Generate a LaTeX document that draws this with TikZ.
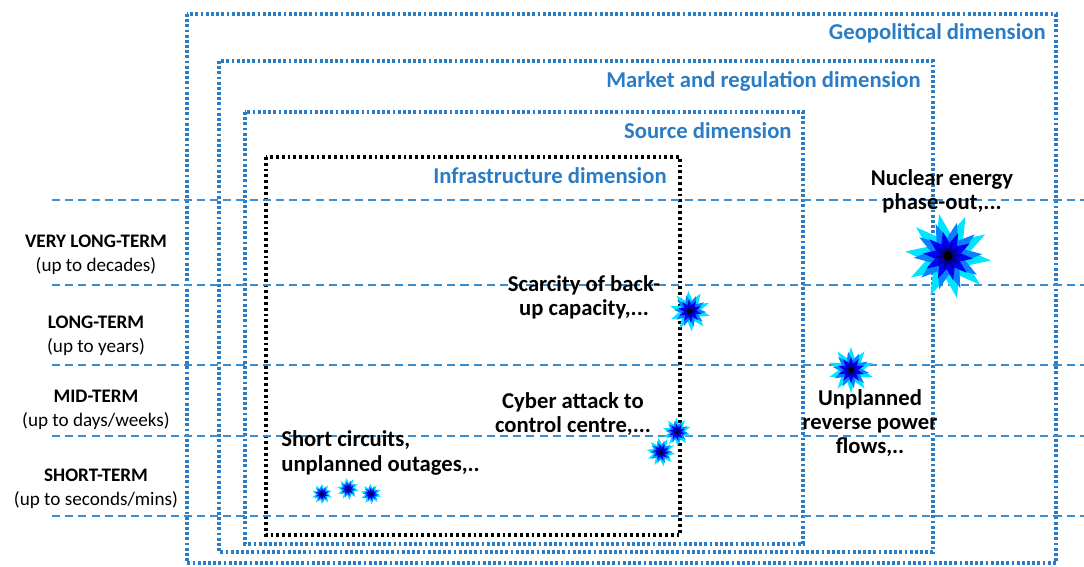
\documentclass[tikz,border=0pt]{standalone}
\usepackage{fontspec}
\setmainfont{Carlito}
\usepackage{tikz}
\usetikzlibrary{shapes.geometric}
\definecolor{dimblue}{HTML}{2B7CC5}
\definecolor{gridblue}{HTML}{3A8ED4}
\definecolor{burstcyan}{HTML}{00E5FF}
\definecolor{burstmid}{HTML}{0A80FF}
\definecolor{burstdeep}{HTML}{0000F5}
\definecolor{burstcore}{HTML}{00008C}
\tikzset{
  dimbox/.style={draw=dimblue, line width=1.75pt, dash pattern=on 1.6pt off 1.35pt},
  infrabox/.style={draw=black, line width=1.75pt, dash pattern=on 1.6pt off 1.7pt},
  horizon/.style={draw=gridblue, line width=1.15pt, dash pattern=on 4.6pt off 2.9pt},
  dimlbl/.style={font=\bfseries\fontsize{12.9}{15}\selectfont, text=dimblue, anchor=east, inner sep=0pt},
  evlbl/.style={font=\bfseries\fontsize{12.9}{13.8}\selectfont, align=center, inner sep=0pt},
  termlbl/.style={font=\fontsize{10.9}{13.6}\selectfont, align=center, inner sep=0pt},
  burst/.style={star, star points=10, star point ratio=1.9, inner sep=0pt, draw=none},
}
% layered starburst: name, position, outer size (cm), rotation
\newcommand{\Burst}[4]{%
  \node[burst, fill=burstcyan, minimum size=#3cm, shape border rotate=#4] (#1) at (#2) {};
  \node[burst, fill=burstmid, minimum size=0.8*#3cm, shape border rotate=#4+9] (#1-m) at (#2) {};
  \node[burst, fill=burstdeep, minimum size=0.58*#3cm, shape border rotate=#4] (#1-d) at (#2) {};
  \node[burst, fill=burstcore, minimum size=0.32*#3cm, shape border rotate=#4+9] (#1-c) at (#2) {};
  \node[circle, fill=black, inner sep=0pt, minimum size=0.11*#3cm] (#1-dot) at (#2) {};
}

\begin{document}
\begin{tikzpicture}[x=0.02cm, y=-0.02cm]
\useasboundingbox (0,0) rectangle (1084,566);

% nested dimensions
\draw[dimbox] (187,14) rectangle (1056,563);
\draw[dimbox] (219,61) rectangle (933,552);
\draw[dimbox] (245,112) rectangle (803,544);
\draw[infrabox] (266,157) rectangle (680,535);

\node[dimlbl] (geo) at (1046,33) {Geopolitical dimension};
\node[dimlbl] (mkt) at (921,81) {Market and regulation dimension};
\node[dimlbl] (src) at (792,131) {Source dimension};
\node[dimlbl] (infra) at (667,176) {Infrastructure dimension};

% time horizons
\foreach \yy in {200,285,365,436,516}
  \draw[horizon] (52,\yy) -- (1084,\yy);

\node[termlbl] (vlt) at (96,255) {\textbf{VERY LONG-TERM}\\(up to decades)};
\node[termlbl] (lt)  at (96,336) {\textbf{LONG-TERM}\\(up to years)};
\node[termlbl] (mt)  at (96,410) {\textbf{MID-TERM}\\(up to days/weeks)};
\node[termlbl] (st)  at (96,489) {\textbf{SHORT-TERM}\\(up to seconds/mins)};

% events
\node[evlbl] (nuc) at (942,191) {Nuclear energy\\phase-out,...};
\node[evlbl] (scar) at (584,297) {Scarcity of back-\\up capacity,...};
\node[evlbl] (rev) at (870,423) {Unplanned\\reverse power\\flows,..};
\node[evlbl] (cyb) at (573,414) {Cyber attack to\\control centre,...};
\node[evlbl, align=left, anchor=west] (sc) at (281,453) {Short circuits,\\unplanned outages,..};

\Burst{bN}{948,256}{1.72}{12}
\Burst{bS}{690,311}{0.82}{5}
\Burst{bR}{851,370}{0.92}{0}
\Burst{bC1}{677,432}{0.58}{3}
\Burst{bC2}{661,452}{0.58}{10}
\Burst{bO1}{322,494}{0.42}{0}
\Burst{bO2}{348,489}{0.44}{8}
\Burst{bO3}{371,494}{0.42}{4}

\end{tikzpicture}
\end{document}
